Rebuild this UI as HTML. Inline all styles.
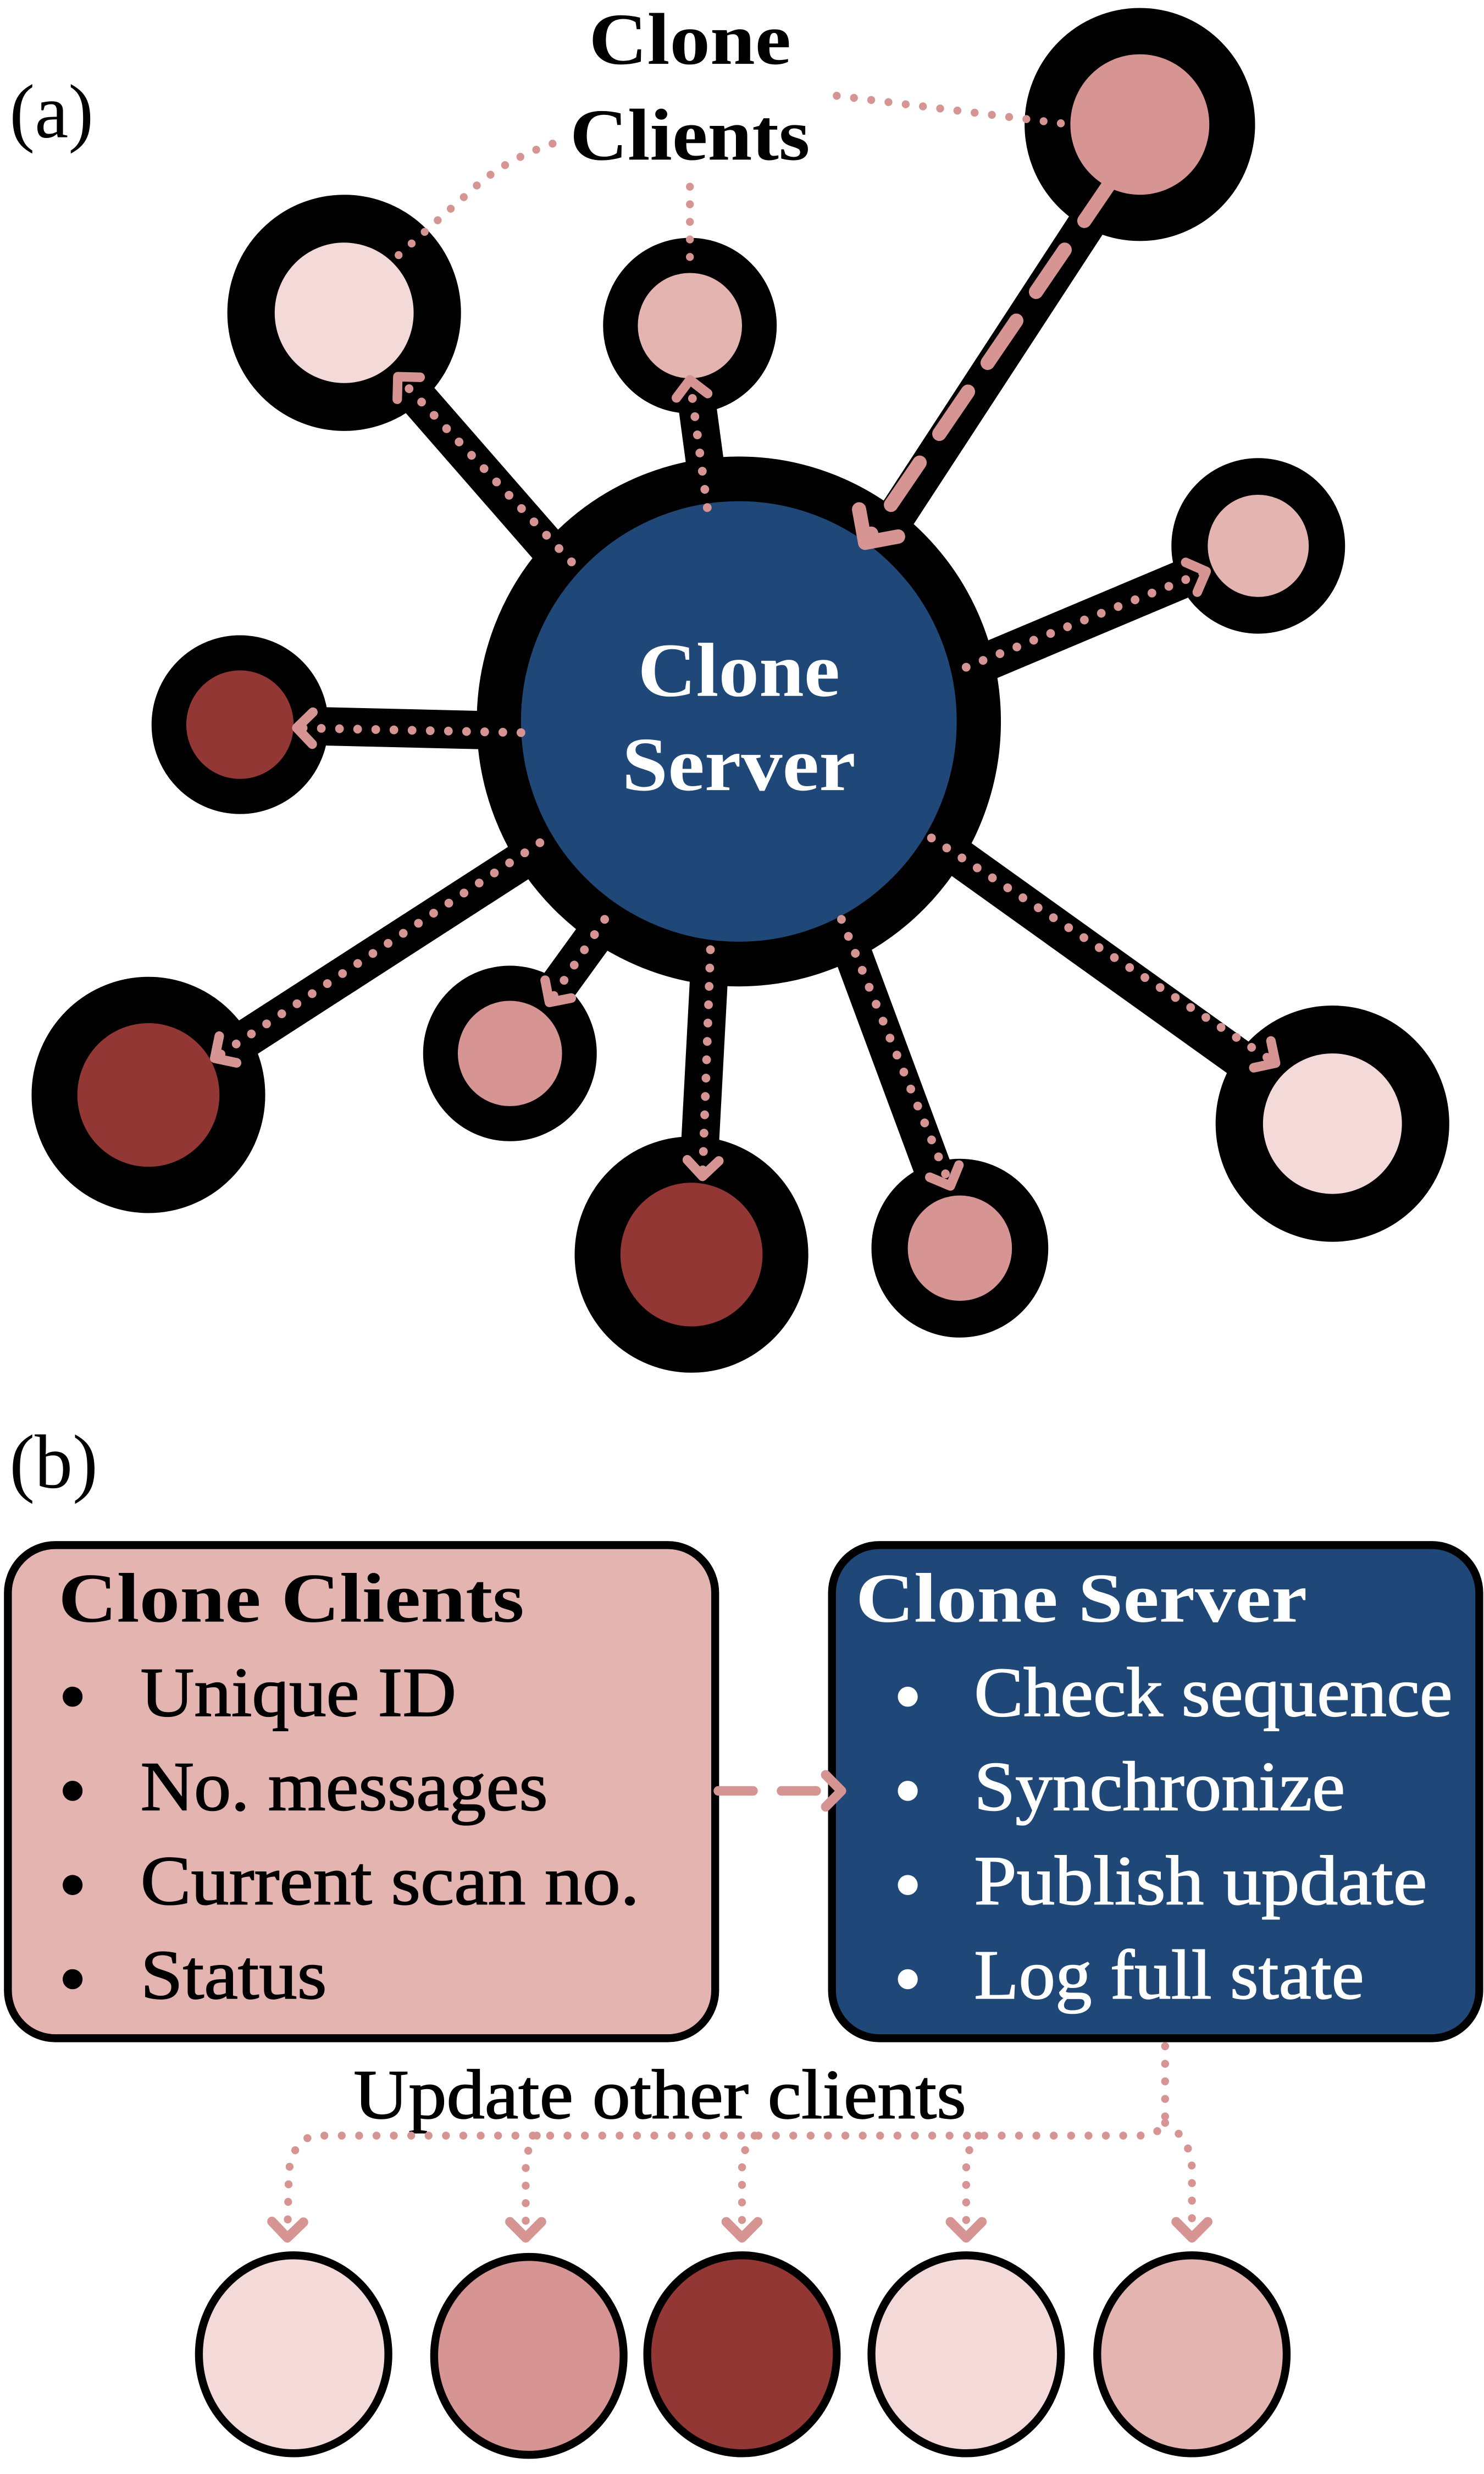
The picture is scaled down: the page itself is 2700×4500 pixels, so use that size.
<!DOCTYPE html>
<html><head><meta charset="utf-8"><style>
html,body{margin:0;padding:0;background:#fff;}
svg{display:block;}
text{font-family:"Liberation Serif",serif;}
</style></head><body>
<svg width="2700" height="4500" viewBox="0 0 940 1550" preserveAspectRatio="none" xmlns="http://www.w3.org/2000/svg">
<defs>
<marker id="ah" markerUnits="userSpaceOnUse" markerWidth="40" markerHeight="40" refX="20" refY="20" orient="auto" viewBox="0 0 40 40">
<polyline points="10,10 20,20 10,30" fill="none" stroke="#d69492" stroke-width="6" stroke-linecap="round" stroke-linejoin="round"/>
</marker>
<marker id="ah2" markerUnits="userSpaceOnUse" markerWidth="50" markerHeight="50" refX="25" refY="25" orient="auto" viewBox="0 0 50 50">
<polyline points="10,10 25,25 10,40" fill="none" stroke="#d69492" stroke-width="9" stroke-linecap="round" stroke-linejoin="round"/>
</marker>
</defs>
<rect width="940" height="1550" fill="#fff"/>

<g stroke="#000" stroke-width="24">
<line x1="380" y1="380" x2="230" y2="210"/>
<line x1="452" y1="330" x2="437" y2="220"/>
<line x1="560" y1="335" x2="715" y2="100"/>
<line x1="600" y1="425" x2="780" y2="350"/>
<line x1="330" y1="458" x2="160" y2="454"/>
<line x1="345" y1="530" x2="110" y2="680"/>
<line x1="385" y1="575" x2="330" y2="650"/>
<line x1="450" y1="595" x2="440" y2="780"/>
<line x1="530" y1="570" x2="605" y2="770"/>
<line x1="590" y1="525" x2="830" y2="695"/>
</g>

<circle cx="468" cy="452" r="152" fill="#1f4879" stroke="#000" stroke-width="28"/>

<g stroke="#000">
<circle cx="218" cy="196" r="59" fill="#f3d9d8" stroke-width="30"/>
<circle cx="437" cy="204" r="44" fill="#e4b4b1" stroke-width="22"/>
<circle cx="722" cy="78" r="58.5" fill="#d69492" stroke-width="29"/>
<circle cx="797" cy="342" r="43.5" fill="#e4b4b1" stroke-width="23"/>
<circle cx="152" cy="454" r="45" fill="#923734" stroke-width="22"/>
<circle cx="94" cy="686" r="59.5" fill="#923734" stroke-width="29"/>
<circle cx="323" cy="660" r="44" fill="#d69492" stroke-width="22"/>
<circle cx="438" cy="786" r="59.5" fill="#923734" stroke-width="29"/>
<circle cx="608" cy="782" r="44.5" fill="#d69492" stroke-width="23"/>
<circle cx="844" cy="704" r="59" fill="#f3d9d8" stroke-width="30"/>
</g>

<g stroke="#d69492" stroke-width="5.5" stroke-linecap="round" fill="none" stroke-dasharray="0 11.5" marker-end="url(#ah)">
<line x1="362" y1="352" x2="252" y2="236"/>
<line x1="448" y1="318" x2="437" y2="238"/>
<line x1="612" y1="418" x2="764" y2="358"/>
<line x1="330" y1="459" x2="188" y2="456"/>
<line x1="342" y1="528" x2="136" y2="663"/>
<line x1="383" y1="576" x2="348" y2="628"/>
<line x1="450" y1="595" x2="445" y2="737"/>
<line x1="533" y1="576" x2="602" y2="743"/>
<line x1="590" y1="525" x2="808" y2="666"/>
</g>
<line x1="705" y1="112" x2="548" y2="340" stroke="#d69492" stroke-width="9" stroke-linecap="round" stroke-dasharray="32 22" marker-end="url(#ah2)"/>

<g stroke="#d69492" stroke-width="5" stroke-linecap="round" fill="none" stroke-dasharray="0 11">
<path d="M350,90 Q320,100 300,118 L250,162"/>
<line x1="437" y1="117" x2="437" y2="172"/>
<line x1="530" y1="60" x2="678" y2="78"/>
</g>

<text x="6" y="86" font-size="48">(a)</text>
<text x="437" y="40" font-size="46" font-weight="bold" text-anchor="middle" textLength="128" lengthAdjust="spacingAndGlyphs">Clone</text>
<text x="437" y="100" font-size="46" font-weight="bold" text-anchor="middle" textLength="152" lengthAdjust="spacingAndGlyphs">Clients</text>
<text x="468" y="436" font-size="48" font-weight="bold" fill="#fff" text-anchor="middle" textLength="128" lengthAdjust="spacingAndGlyphs">Clone</text>
<text x="468" y="495" font-size="48" font-weight="bold" fill="#fff" text-anchor="middle" textLength="148" lengthAdjust="spacingAndGlyphs">Server</text>

<text x="6" y="932" font-size="48">(b)</text>
<rect x="5" y="968" width="448" height="309" rx="30" fill="#e4b4b1" stroke="#000" stroke-width="5"/>
<rect x="527" y="968" width="410" height="309" rx="30" fill="#1f4879" stroke="#000" stroke-width="5"/>

<g font-size="44">
<text x="37" y="1016" font-weight="bold" textLength="295" lengthAdjust="spacingAndGlyphs">Clone Clients</text>
<g stroke="#000" stroke-width="0.6">
<circle cx="46" cy="1063" r="6" fill="#000"/><text x="89" y="1075" textLength="200" lengthAdjust="spacingAndGlyphs">Unique ID</text>
<circle cx="46" cy="1122" r="6" fill="#000"/><text x="89" y="1134" textLength="258" lengthAdjust="spacingAndGlyphs">No. messages</text>
<circle cx="46" cy="1181" r="6" fill="#000"/><text x="89" y="1193" textLength="316" lengthAdjust="spacingAndGlyphs">Current scan no.</text>
<circle cx="46" cy="1240" r="6" fill="#000"/><text x="89" y="1252" textLength="118" lengthAdjust="spacingAndGlyphs">Status</text>
</g>
</g>
<g font-size="44" fill="#fff">
<text x="542" y="1016" font-weight="bold" textLength="286" lengthAdjust="spacingAndGlyphs">Clone Server</text>
<g stroke="#fff" stroke-width="0.6">
<circle cx="575" cy="1063" r="6"/><text x="617" y="1075" textLength="303" lengthAdjust="spacingAndGlyphs">Check sequence</text>
<circle cx="575" cy="1122" r="6"/><text x="617" y="1134" textLength="235" lengthAdjust="spacingAndGlyphs">Synchronize</text>
<circle cx="575" cy="1181" r="6"/><text x="617" y="1193" textLength="287" lengthAdjust="spacingAndGlyphs">Publish update</text>
<circle cx="575" cy="1240" r="6"/><text x="617" y="1252" textLength="247" lengthAdjust="spacingAndGlyphs">Log full state</text>
</g>
</g>

<line x1="455" y1="1122" x2="533" y2="1122" stroke="#d69492" stroke-width="6" stroke-linecap="round" stroke-dasharray="22 18" marker-end="url(#ah)"/>

<text x="418" y="1327" font-size="44" text-anchor="middle" textLength="388" lengthAdjust="spacingAndGlyphs" stroke="#000" stroke-width="0.6">Update other clients</text>

<g stroke="#d69492" stroke-width="5" stroke-linecap="round" fill="none" stroke-dasharray="0 11" marker-end="url(#ah)">
<path d="M738,1282 L738,1328 Q736,1338 720,1338 L200,1338 Q186,1340 183,1360 L182,1402"/>
<path d="M340,1338 Q333,1345 333,1360 L333,1402"/>
<path d="M478,1338 Q470,1345 470,1360 L470,1402"/>
<path d="M620,1338 Q612,1345 612,1360 L612,1402"/>
<path d="M738,1330 Q755,1340 755,1360 L755,1402"/>
</g>

<g stroke="#000" stroke-width="5">
<ellipse cx="186" cy="1475" rx="60" ry="62" fill="#f3d9d8"/>
<ellipse cx="335" cy="1476" rx="60" ry="62" fill="#d69492"/>
<ellipse cx="470" cy="1475" rx="60" ry="62" fill="#923734"/>
<ellipse cx="612" cy="1475" rx="60" ry="62" fill="#f3d9d8"/>
<ellipse cx="755" cy="1475" rx="60" ry="62" fill="#e4b4b1"/>
</g>
</svg>
</body></html>
